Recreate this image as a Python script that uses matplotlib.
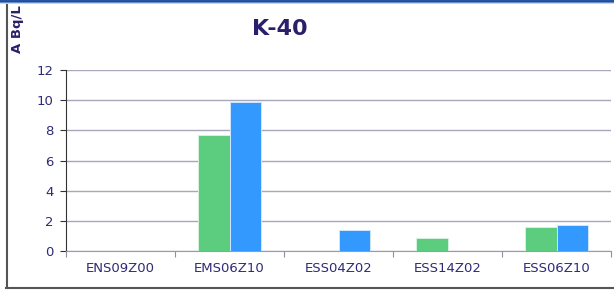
import numpy as np
import matplotlib
matplotlib.use('Agg')
import matplotlib.pyplot as plt
from matplotlib.lines import Line2D

categories = ['ENS09Z00', 'EMS06Z10', 'ESS04Z02', 'ESS14Z02', 'ESS06Z10']
green_vals = [np.nan, 7.72, np.nan, 0.83, 1.57]
blue_vals = [np.nan, 9.88, 1.40, np.nan, 1.72]
yticks = [0, 2, 4, 6, 8, 10, 12]

txt = '#2e2a78'
W, H = 614, 291

fig = plt.figure(figsize=(W / 100, H / 100), dpi=100)
fig.patch.set_facecolor('white')

# top blue strip
strip = fig.add_axes([0, 1 - 4 / H, 1, 4 / H])
grad = np.array([[0.16, 0.33, 0.65], [0.12, 0.30, 0.62],
                 [0.40, 0.56, 0.78], [0.78, 0.85, 0.94]])[:, None, :]
strip.imshow(grad, aspect='auto', extent=[0, 1, 0, 1])
strip.axis('off')

# outer frame (left and bottom)
fig.add_artist(Line2D([6.5 / W, 6.5 / W], [1 - 5 / H, 1 - 288 / H],
                      transform=fig.transFigure, color='#555555', lw=1.5))
fig.add_artist(Line2D([6 / W, 1], [1 - 288 / H, 1 - 288 / H],
                      transform=fig.transFigure, color='#555555', lw=1.5))

ax = fig.add_axes([66 / W, 40 / H, 545 / W, 181 / H])
x = np.arange(len(categories))
bw = 0.29
ax.bar(x - bw / 2, green_vals, bw, color='#5ccd7f', edgecolor='#d5f3de', linewidth=0.7, zorder=3)
ax.bar(x + bw / 2, blue_vals, bw, color='#3399ff', edgecolor='#cfe5ff', linewidth=0.7, zorder=3)

ax.set_xlim(-0.5, len(categories) - 0.5)
ax.set_ylim(0, 12)
ax.set_yticks(yticks)
ax.yaxis.grid(True, color='#a8a8bc', lw=1, zorder=0)

ax.set_xticks(np.arange(-0.5, len(categories)))
ax.set_xticklabels([])
ax.set_xticks(x, minor=True)
ax.set_xticklabels(categories, minor=True)
ax.tick_params(axis='x', which='major', length=4, color='#9090a0', direction='out')
ax.tick_params(axis='x', which='minor', length=0, pad=8, labelsize=9.5, labelcolor=txt)
ax.tick_params(axis='y', length=4, color='#333333', pad=5, labelsize=9.5, labelcolor=txt)

for s in ['top', 'right']:
    ax.spines[s].set_visible(False)
ax.spines['left'].set_color('#333333')
ax.spines['bottom'].set_color('#9a9aac')

fig.text(280 / W, 1 - 29 / H, 'K-40', ha='center', va='center',
         fontsize=16, fontweight='bold', color='#2a1f6b')
fig.text(17 / W, 1 - 29 / H, 'A Bq/L', ha='center', va='center', rotation=90,
         fontsize=9.5, fontweight='bold', color='#2a1f6b')

fig.savefig('out.png', dpi=100)
